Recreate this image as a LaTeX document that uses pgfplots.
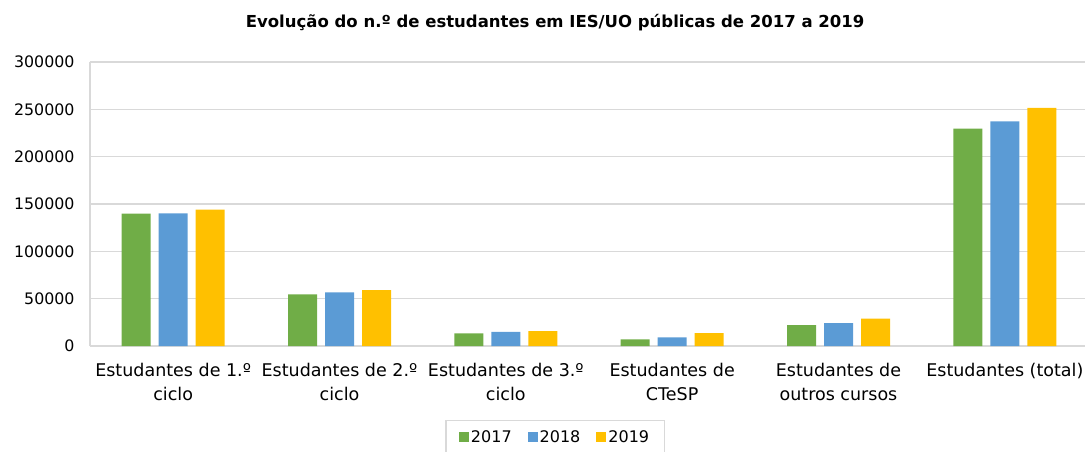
\documentclass[border=0pt]{standalone}
\usepackage{pgfplots}
\pgfplotsset{compat=1.18}
\usepackage{fontspec}
\setmainfont{DejaVu Sans}
\definecolor{cgreen}{HTML}{70AD47}
\definecolor{cblue}{HTML}{5B9BD5}
\definecolor{cgold}{HTML}{FFC000}
\definecolor{cgrid}{HTML}{D9D9D9}
\begin{document}
\begin{tikzpicture}
\path[use as bounding box] (-90pt,-105pt) rectangle (995pt,346pt);
\begin{axis}[
  scale only axis, width=998pt, height=284pt,
  ymin=0, ymax=300000,
  ytick={0,50000,...,300000},
  scaled y ticks=false,
  /pgf/number format/assume math mode=true,
  yticklabel style={/pgf/number format/fixed,/pgf/number format/1000 sep={},font=\fontsize{15.8}{18}\selectfont,xshift=-12pt},
  xmin=-0.5, xmax=5.5,
  xtick={0,1,2,3,4,5},
  xticklabels={{Estudantes de 1.º\\ciclo},{Estudantes de 2.º\\ciclo},{Estudantes de 3.º\\ciclo},{Estudantes de\\CTeSP},{Estudantes de\\outros cursos},{Estudantes (total)}},
  xticklabel style={align=center,font=\fontsize{17.5}{24}\selectfont,yshift=-14pt},
  major tick length=0pt,
  ymajorgrids, grid style={cgrid,line width=1.4pt},
  axis x line*=bottom, axis y line*=left,
  axis line style={cgrid,line width=1.4pt},
  x axis line style={-}, y axis line style={-},
  ybar=8pt, bar width=29pt,
  legend style={at={(0.466,-0.26)},anchor=north,legend columns=3,draw=cgrid,line width=1.2pt,font=\fontsize{16}{19}\selectfont,inner xsep=13pt,inner ysep=8pt,/tikz/every even column/.append style={column sep=14pt}},
  legend image code/.code={\fill[#1] (0pt,-5pt) rectangle (10pt,5pt);},
  title={\bfseries Evolução do n.º de estudantes em IES/UO públicas de 2017 a 2019},
  title style={font=\fontsize{16.5}{19}\selectfont,at={(0.466,1)},yshift=22pt},
]
\addplot[draw=none,fill=cgreen] coordinates {(0,139900) (1,54500) (2,13400) (3,7000) (4,22100) (5,229500)};
\addplot[draw=none,fill=cblue] coordinates {(0,140000) (1,56600) (2,14800) (3,9200) (4,24200) (5,237200)};
\addplot[draw=none,fill=cgold] coordinates {(0,144100) (1,59000) (2,15800) (3,13700) (4,28800) (5,251600)};
\legend{2017,2018,2019}
\end{axis}
\end{tikzpicture}
\end{document}
